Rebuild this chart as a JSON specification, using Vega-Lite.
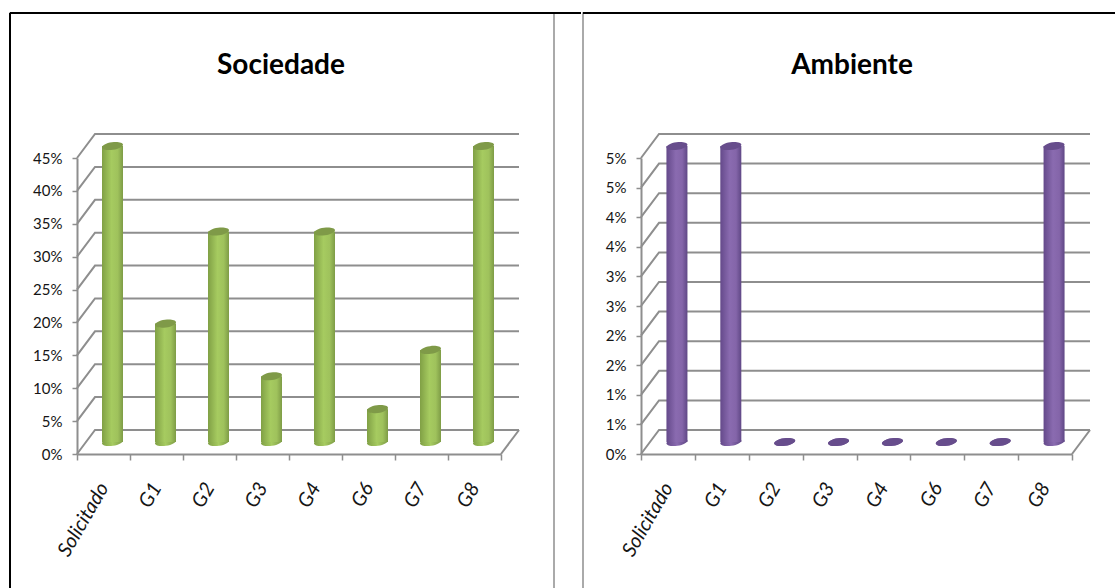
{
  "$schema": "https://vega.github.io/schema/vega-lite/v6.json",
  "padding": {"left": 0, "top": 11, "right": 0, "bottom": 0},
  "background": "white",
  "spacing": -14,
  "config": {
    "axis": {"domainColor": "#8e8e8e", "domainWidth": 2, "tickColor": "#8e8e8e", "tickWidth": 1.5, "grid": false, "title": null, "labelColor": "#151515", "labelFont": "Lato", "labelFontSize": 15},
    "title": {"font": "Lato", "fontSize": 28, "fontWeight": "bold", "color": "#000000"},
    "view": {"stroke": "#8e8e8e", "strokeWidth": 1.5}
  },
  "datasets": {
    "sociedade": [
      {"grupo": "Solicitado", "valor": 0.45},
      {"grupo": "G1", "valor": 0.18},
      {"grupo": "G2", "valor": 0.32},
      {"grupo": "G3", "valor": 0.10},
      {"grupo": "G4", "valor": 0.32},
      {"grupo": "G6", "valor": 0.05},
      {"grupo": "G7", "valor": 0.14},
      {"grupo": "G8", "valor": 0.45}
    ],
    "ambiente": [
      {"grupo": "Solicitado", "valor": 0.05},
      {"grupo": "G1", "valor": 0.05},
      {"grupo": "G2", "valor": 0},
      {"grupo": "G3", "valor": 0},
      {"grupo": "G4", "valor": 0},
      {"grupo": "G6", "valor": 0},
      {"grupo": "G7", "valor": 0},
      {"grupo": "G8", "valor": 0.05}
    ],
    "marcasSociedade": [
      {"marca": 0}, {"marca": 0.05}, {"marca": 0.10}, {"marca": 0.15}, {"marca": 0.20},
      {"marca": 0.25}, {"marca": 0.30}, {"marca": 0.35}, {"marca": 0.40}, {"marca": 0.45}
    ],
    "marcasAmbiente": [
      {"marca": 0}, {"marca": 0.005}, {"marca": 0.01}, {"marca": 0.015}, {"marca": 0.02}, {"marca": 0.025},
      {"marca": 0.03}, {"marca": 0.035}, {"marca": 0.04}, {"marca": 0.045}, {"marca": 0.05}
    ]
  },
  "hconcat": [
    {
      "width": 544,
      "height": 576,
      "title": {"text": "Sociedade", "offset": -68, "anchor": "middle", "dx": -1},
      "layer": [
        {
          "data": {"values": [{}]},
          "mark": {"type": "rule", "color": "#000000", "strokeWidth": 2},
          "encoding": {"x": {"value": 0}, "x2": {"value": 571}, "y": {"value": 0}}
        },
        {
          "data": {"values": [{}]},
          "mark": {"type": "rule", "color": "#000000", "strokeWidth": 2},
          "encoding": {"x": {"value": 0}, "y": {"value": 0}, "y2": {"value": 576}}
        },
        {
          "data": {"name": "marcasSociedade"},
          "mark": {"type": "point", "shape": "M0,0L18,-24H442", "size": 4, "filled": false, "stroke": "#8e8e8e", "strokeWidth": 2, "opacity": 1},
          "encoding": {
            "x": {"datum": "Solicitado", "type": "nominal", "bandPosition": 0, "scale": {"domain": ["Solicitado", "G1", "G2", "G3", "G4", "G6", "G7", "G8"], "range": [67, 491], "paddingInner": 0, "paddingOuter": 0},
              "axis": {"orient": "bottom", "offset": -135, "tickBand": "extent", "tickSize": 6, "labelAngle": -60, "labelAlign": "right", "labelBaseline": "middle", "labelPadding": 24, "labelFontStyle": "italic", "labelFontSize": 20, "labelBound": false, "labelFlush": false, "labelOverlap": false}},
            "y": {"field": "marca", "type": "quantitative", "scale": {"domain": [0, 0.45], "range": [441, 145], "nice": false},
              "axis": {"orient": "left", "offset": -67, "values": [0, 0.05, 0.10, 0.15, 0.20, 0.25, 0.30, 0.35, 0.40, 0.45], "format": ".0%", "tickSize": 5, "labelPadding": 10, "labelOverlap": false, "labelBound": false}}
          }
        },
        {
          "data": {"values": [{"marca": 0}]},
          "mark": {"type": "point", "shape": "M424,0L442,-24", "size": 4, "filled": false, "stroke": "#8e8e8e", "strokeWidth": 2, "opacity": 1},
          "encoding": {
            "x": {"datum": "Solicitado", "type": "nominal", "bandPosition": 0},
            "y": {"field": "marca", "type": "quantitative"}
          }
        },
        {
          "data": {"name": "sociedade"},
          "mark": {"type": "point", "shape": "M-1,0.14A1,0.36,-8,0,1,1,-0.14A1,0.36,-8,0,1,-1,0.14Z", "size": 441, "filled": true, "opacity": 1, "xOffset": 9, "yOffset": -12,
            "fill": {"gradient": "linear", "x1": 0, "x2": 1, "y1": 0, "y2": 0, "stops": [{"offset": 0, "color": "#80a045"}, {"offset": 0.5, "color": "#a6cb60"}, {"offset": 1, "color": "#7e9c46"}]}},
          "encoding": {
            "x": {"field": "grupo", "type": "nominal"},
            "y": {"datum": 0, "type": "quantitative"}
          }
        },
        {
          "data": {"name": "sociedade"},
          "mark": {"type": "bar", "size": 21, "xOffset": 9, "yOffset": -12,
            "fill": {"gradient": "linear", "x1": 0, "x2": 1, "y1": 0, "y2": 0, "stops": [{"offset": 0, "color": "#80a045"}, {"offset": 0.45, "color": "#a6cb60"}, {"offset": 0.75, "color": "#9fc25c"}, {"offset": 1, "color": "#7e9c46"}]}},
          "encoding": {
            "x": {"field": "grupo", "type": "nominal"},
            "y": {"field": "valor", "type": "quantitative"}
          }
        },
        {
          "data": {"name": "sociedade"},
          "mark": {"type": "point", "shape": "M-1,0.14A1,0.36,-8,0,1,1,-0.14A1,0.36,-8,0,1,-1,0.14Z", "size": 441, "filled": true, "opacity": 1, "color": "#7f9a48", "xOffset": 9, "yOffset": -12},
          "encoding": {
            "x": {"field": "grupo", "type": "nominal"},
            "y": {"field": "valor", "type": "quantitative"}
          }
        }
      ]
    },
    {
      "width": 534,
      "height": 576,
      "title": {"text": "Ambiente", "offset": -68, "anchor": "middle", "dx": 2},
      "layer": [
        {
          "data": {"values": [{}]},
          "mark": {"type": "rule", "color": "#000000", "strokeWidth": 2},
          "encoding": {"x": {"value": 0}, "x2": {"value": 534}, "y": {"value": 0}}
        },
        {
          "data": {"name": "marcasAmbiente"},
          "mark": {"type": "point", "shape": "M0,0L18,-24H449", "size": 4, "filled": false, "stroke": "#8e8e8e", "strokeWidth": 2, "opacity": 1},
          "encoding": {
            "x": {"datum": "Solicitado", "type": "nominal", "bandPosition": 0, "scale": {"domain": ["Solicitado", "G1", "G2", "G3", "G4", "G6", "G7", "G8"], "range": [58, 489], "paddingInner": 0, "paddingOuter": 0},
              "axis": {"orient": "bottom", "offset": -135, "tickBand": "extent", "tickSize": 6, "labelAngle": -60, "labelAlign": "right", "labelBaseline": "middle", "labelPadding": 24, "labelFontStyle": "italic", "labelFontSize": 20, "labelBound": false, "labelFlush": false, "labelOverlap": false}},
            "y": {"field": "marca", "type": "quantitative", "scale": {"domain": [0, 0.05], "range": [441, 145], "nice": false},
              "axis": {"orient": "left", "offset": -58, "values": [0, 0.005, 0.01, 0.015, 0.02, 0.025, 0.03, 0.035, 0.04, 0.045, 0.05], "format": ".0%", "tickSize": 5, "labelPadding": 10, "labelOverlap": false, "labelBound": false}}
          }
        },
        {
          "data": {"values": [{"marca": 0}]},
          "mark": {"type": "point", "shape": "M431,0L449,-24", "size": 4, "filled": false, "stroke": "#8e8e8e", "strokeWidth": 2, "opacity": 1},
          "encoding": {
            "x": {"datum": "Solicitado", "type": "nominal", "bandPosition": 0},
            "y": {"field": "marca", "type": "quantitative"}
          }
        },
        {
          "data": {"name": "ambiente"},
          "mark": {"type": "point", "shape": "M-1,0.14A1,0.36,-8,0,1,1,-0.14A1,0.36,-8,0,1,-1,0.14Z", "size": 441, "filled": true, "opacity": 1, "xOffset": 9, "yOffset": -12,
            "fill": {"gradient": "linear", "x1": 0, "x2": 1, "y1": 0, "y2": 0, "stops": [{"offset": 0, "color": "#64498a"}, {"offset": 0.5, "color": "#8a6bb0"}, {"offset": 1, "color": "#5f4785"}]}},
          "encoding": {
            "x": {"field": "grupo", "type": "nominal"},
            "y": {"datum": 0, "type": "quantitative"}
          }
        },
        {
          "data": {"name": "ambiente"},
          "mark": {"type": "bar", "size": 21, "xOffset": 9, "yOffset": -12,
            "fill": {"gradient": "linear", "x1": 0, "x2": 1, "y1": 0, "y2": 0, "stops": [{"offset": 0, "color": "#64498a"}, {"offset": 0.45, "color": "#8a6bb0"}, {"offset": 0.75, "color": "#8465a9"}, {"offset": 1, "color": "#5f4785"}]}},
          "encoding": {
            "x": {"field": "grupo", "type": "nominal"},
            "y": {"field": "valor", "type": "quantitative"}
          }
        },
        {
          "data": {"name": "ambiente"},
          "mark": {"type": "point", "shape": "M-1,0.14A1,0.36,-8,0,1,1,-0.14A1,0.36,-8,0,1,-1,0.14Z", "size": 441, "filled": true, "opacity": 1, "color": "#674d8c", "xOffset": 9, "yOffset": -12},
          "encoding": {
            "x": {"field": "grupo", "type": "nominal"},
            "y": {"field": "valor", "type": "quantitative"}
          }
        }
      ]
    }
  ]
}
